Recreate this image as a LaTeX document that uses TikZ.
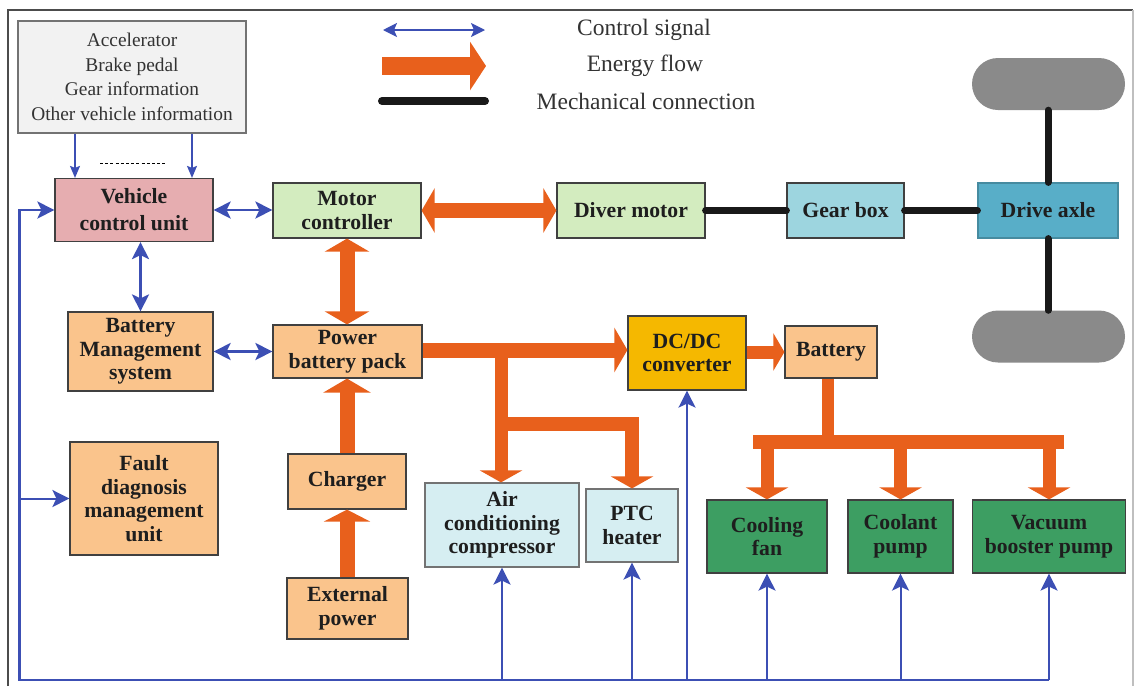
\documentclass[tikz,border=0pt]{standalone}
\usepackage{fontspec}
\setmainfont{Liberation Serif}
\usetikzlibrary{arrows.meta,calc}
\definecolor{eorange}{HTML}{E8601C}
\definecolor{cblue}{HTML}{3C4FB4}
\definecolor{infofill}{HTML}{F2F2F2}
\definecolor{vcufill}{HTML}{E6ADB0}
\definecolor{lgreen}{HTML}{D3ECBF}
\definecolor{gbfill}{HTML}{9DD5DF}
\definecolor{dafill}{HTML}{58AEC8}
\definecolor{ofill}{HTML}{FAC48C}
\definecolor{dcfill}{HTML}{F5B800}
\definecolor{cyanfill}{HTML}{D6EEF2}
\definecolor{gfill}{HTML}{3D9E62}
\definecolor{wheel}{HTML}{8A8A8A}
\definecolor{txt}{HTML}{1E1E1E}
\definecolor{gtxt}{HTML}{333333}
\tikzset{
  ctip/.tip={Stealth[length=17pt,width=17pt,inset=4pt]},
  itip/.tip={Stealth[length=12pt,width=10pt,inset=2pt]},
  etip/.tip={Triangle[length=13pt,width=44pt]},
  stip/.tip={Triangle[length=11pt,width=37pt]},
  box/.style={draw=black!75, line width=1.2pt, inner sep=0pt, align=center, text=txt,
    font=\bfseries\fontsize{21.7}{23.5}\selectfont},
  energy/.style={draw=eorange, line width=15pt},
  ctrl/.style={draw=cblue, line width=2.8pt},
  ctrlthin/.style={draw=cblue, line width=2pt},
  mech/.style={draw=black!90, line width=7pt, line cap=round},
  legtxt/.style={text=gtxt, font=\fontsize{23.5}{25}\selectfont},
}
\begin{document}
\begin{tikzpicture}[x=1pt,y=-1pt]
\useasboundingbox (0,0) rectangle (1139,686);
\fill[white] (0,0) rectangle (1139,686);
% frame
\draw[black!70, line width=1.6pt] (8,686) -- (8,10) -- (1133,10);
\draw[black!25, line width=2pt] (1133,10) -- (1133,686);

% legend
\draw[cblue, line width=1.6pt, {Stealth[length=14pt,width=14pt,inset=3pt]}-{Stealth[length=14pt,width=14pt,inset=3pt]}] (383,30) -- (485,30);
\draw[draw=eorange, line width=18pt, -{Triangle[length=16pt,width=48pt]}] (382,66) -- (486,66);
\draw[mech, line width=8pt] (382,101) -- (485,101);
\node[legtxt] (lg1) at (644,30) {Control signal};
\node[legtxt] (lg2) at (645,66) {Energy flow};
\node[legtxt] (lg3) at (646,101) {Mechanical connection};

% boxes
\node[box, draw=black!55, fill=infofill, minimum width=228pt, minimum height=112pt, text=gtxt,
  font=\fontsize{19.4}{24.5}\selectfont] (info) at (132,77) {Accelerator\\Brake pedal\\Gear information\\Other vehicle information};
\node[box, fill=vcufill, minimum width=158pt, minimum height=63pt, font=\bfseries\fontsize{21.7}{27}\selectfont] (vcu) at (134,210) {Vehicle\\control unit};
\node[box, fill=lgreen, minimum width=148pt, minimum height=55pt] (mc) at (347,210.5) {Motor\\controller};
\node[box, fill=lgreen, minimum width=148pt, minimum height=55pt] (dm) at (631,210.5) {Diver motor};
\node[box, fill=gbfill, minimum width=117pt, minimum height=55pt] (gb) at (845.5,210.5) {Gear box};
\node[box, fill=dafill, draw=dafill!80!black, minimum width=140pt, minimum height=55pt] (da) at (1048,210.5) {Drive axle};
\node[fill=wheel, rounded corners=26pt, minimum width=153pt, minimum height=52pt, inner sep=0pt] (wt) at (1048.5,84) {};
\node[fill=wheel, rounded corners=26pt, minimum width=153pt, minimum height=52pt, inner sep=0pt] (wb) at (1048.5,336.5) {};
\node[box, fill=ofill, minimum width=145pt, minimum height=79pt] (bms) at (140.5,351.5) {Battery\\Management\\system};
\node[box, fill=ofill, minimum width=149pt, minimum height=53pt] (pbp) at (347.5,351.5) {Power\\battery pack};
\node[box, fill=dcfill, minimum width=118pt, minimum height=74pt] (dcdc) at (687,353) {DC/DC\\converter};
\node[box, fill=ofill, minimum width=92pt, minimum height=52pt] (bat) at (831,352) {Battery};
\node[box, fill=ofill, minimum width=148pt, minimum height=113pt] (fault) at (144,498.5) {Fault\\diagnosis\\management\\unit};
\node[box, fill=ofill, minimum width=118pt, minimum height=55pt] (charger) at (347,481.5) {Charger};
\node[box, fill=ofill, minimum width=121pt, minimum height=61pt] (ext) at (347.5,608.5) {External\\power};
\node[box, draw=black!55, fill=cyanfill, minimum width=154pt, minimum height=84pt] (aircon) at (502,525) {Air\\conditioning\\compressor};
\node[box, draw=black!55, fill=cyanfill, minimum width=92pt, minimum height=73pt] (ptc) at (632,525.5) {PTC\\heater};
\node[box, fill=gfill, minimum width=120pt, minimum height=73pt] (fan) at (767,536.5) {Cooling\\fan};
\node[box, fill=gfill, minimum width=105pt, minimum height=73pt] (coolant) at (900.5,536.5) {Coolant\\pump};
\node[box, fill=gfill, minimum width=153pt, minimum height=73pt] (vacuum) at (1049,536.5) {Vacuum\\booster pump};

% mechanical connections
\draw[mech] (dm.east) -- (gb.west);
\draw[mech] (gb.east) -- (da.west);
\draw[mech] (wt.south -| da.north) -- (da.north);
\draw[mech] (da.south) -- (da.south |- wb.north);

% energy flow
\draw[energy, etip-etip] (mc.east) -- (dm.west);
\draw[energy, etip-etip] (mc.south) -- (mc.south |- pbp.north);
\draw[energy, -{Triangle[length=14pt,width=47pt]}] (charger.north) -- (charger.north |- pbp.south);
\draw[energy, -{Triangle[length=12pt,width=46pt]}] (charger.south |- ext.north) -- (charger.south);
\coordinate (j1) at (501,350);
\coordinate (j2) at (501,424);
\draw[energy, -etip] (pbp.east |- j1) -- (j1 -| dcdc.west);
\draw[energy, line width=13pt, -stip] (dcdc.east |- bat.west) -- (bat.west);
\draw[energy, line width=13pt, -{Triangle[length=12pt,width=42pt]}] (j1) -- (j1 |- aircon.north);
\draw[energy, line width=14pt, line join=miter, -{Triangle[length=12pt,width=42pt]}] (j2) -| (ptc.north);
\coordinate (busL) at (753,442);
\coordinate (busR) at (1064,442);
\coordinate (stem) at (827.5,0);
\draw[energy, line width=14pt] (busL) -- (busR);
\draw[energy, line width=12pt] (bat.south -| stem) -- (busL -| stem);
\draw[energy, line width=13pt, -{Triangle[length=12pt,width=42pt]}] (fan.north |- busL) -- (fan.north);
\draw[energy, line width=13pt, -{Triangle[length=12pt,width=42pt]}] (coolant.north |- busL) -- (coolant.north);
\draw[energy, line width=13pt, -{Triangle[length=12pt,width=42pt]}] (vacuum.north |- busL) -- (vacuum.north);

% control signals
\coordinate (ia) at (75,0);
\coordinate (ib) at (192,0);
\draw[cblue, line width=1.4pt, -itip] (info.south -| ia) -- (vcu.north -| ia);
\draw[cblue, line width=1.4pt, -itip] (info.south -| ib) -- (vcu.north -| ib);
\draw[black, line width=0.8pt, dash pattern=on 3pt off 2.2pt] (100,163) -- (167,163);
\draw[ctrl, ctip-ctip] (vcu.east) -- (vcu.east -| mc.west);
\draw[ctrl, ctip-ctip] (bms.north |- vcu.south) -- (bms.north);
\draw[ctrl, ctip-ctip] (bms.east) -- (pbp.west);
\coordinate (bl) at (19.5,680);
\draw[ctrl, -ctip] (vacuum.south |- bl) -- (bl) -- (bl |- vcu.west) -- (vcu.west);
\draw[ctrlthin, -ctip] (bl |- fault.west) -- (fault.west);
\foreach \n in {aircon,ptc,dcdc,fan,coolant,vacuum}
  \draw[ctrlthin, -ctip] (\n.south |- bl) -- (\n.south);
\end{tikzpicture}
\end{document}
